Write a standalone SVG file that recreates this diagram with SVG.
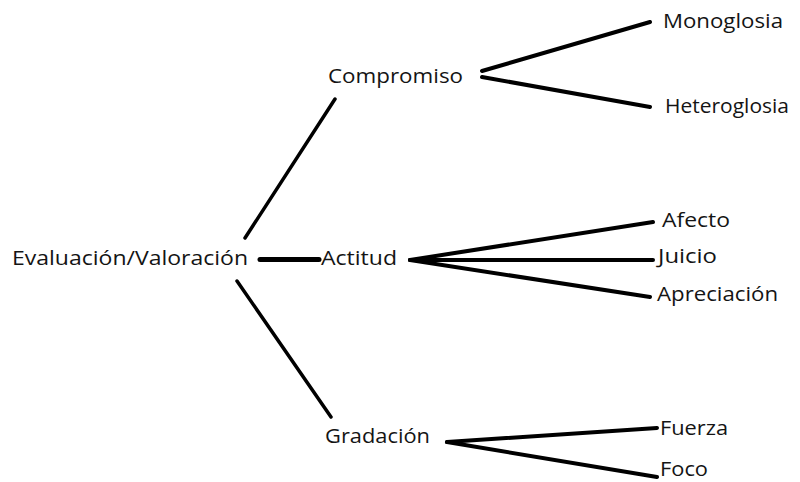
<svg xmlns="http://www.w3.org/2000/svg" width="800" height="482" viewBox="0 0 800 482">
<style>
text{font-family:"Open Sans","Liberation Sans",sans-serif;font-size:19.5px;fill:#141414}
.c line{stroke:#000;stroke-width:4;stroke-linecap:round}
</style>
<rect width="800" height="482" fill="#fff"/>
<g class="c" id="connectors">
<line x1="260" y1="259.5" x2="319" y2="259.5" style="stroke-width:5"/>
<line x1="245" y1="238" x2="335" y2="99" style="stroke-width:3.5"/>
<line x1="237" y1="281" x2="331" y2="417" style="stroke-width:3.5"/>
<line x1="482" y1="71" x2="650" y2="22"/>
<line x1="482" y1="77" x2="650" y2="107"/>
<line x1="410" y1="260" x2="653" y2="222"/>
<line x1="410" y1="260" x2="653" y2="260"/>
<line x1="410" y1="260" x2="650" y2="297"/>
<line x1="447" y1="442" x2="657" y2="428"/>
<line x1="447" y1="442" x2="657" y2="477"/>
</g>
<g id="evaluacion"><text x="12" y="265" textLength="236" lengthAdjust="spacingAndGlyphs">Evaluación/Valoración</text></g>
<g id="actitud"><text x="321" y="265" textLength="76" lengthAdjust="spacingAndGlyphs">Actitud</text></g>
<g id="compromiso"><text x="328" y="83" textLength="135" lengthAdjust="spacingAndGlyphs">Compromiso</text></g>
<g id="gradacion"><text x="325" y="443" textLength="105" lengthAdjust="spacingAndGlyphs">Gradación</text></g>
<g id="monoglosia"><text x="663" y="28" textLength="120" lengthAdjust="spacingAndGlyphs">Monoglosia</text></g>
<g id="heteroglosia"><text x="665" y="113" textLength="124" lengthAdjust="spacingAndGlyphs">Heteroglosia</text></g>
<g id="afecto"><text x="662" y="227" textLength="68" lengthAdjust="spacingAndGlyphs">Afecto</text></g>
<g id="juicio"><text x="658" y="263" textLength="59" lengthAdjust="spacingAndGlyphs">Juicio</text></g>
<g id="apreciacion"><text x="657" y="301" textLength="121" lengthAdjust="spacingAndGlyphs">Apreciación</text></g>
<g id="fuerza"><text x="660" y="435" textLength="68" lengthAdjust="spacingAndGlyphs">Fuerza</text></g>
<g id="foco"><text x="660" y="476" textLength="48" lengthAdjust="spacingAndGlyphs">Foco</text></g>
</svg>
